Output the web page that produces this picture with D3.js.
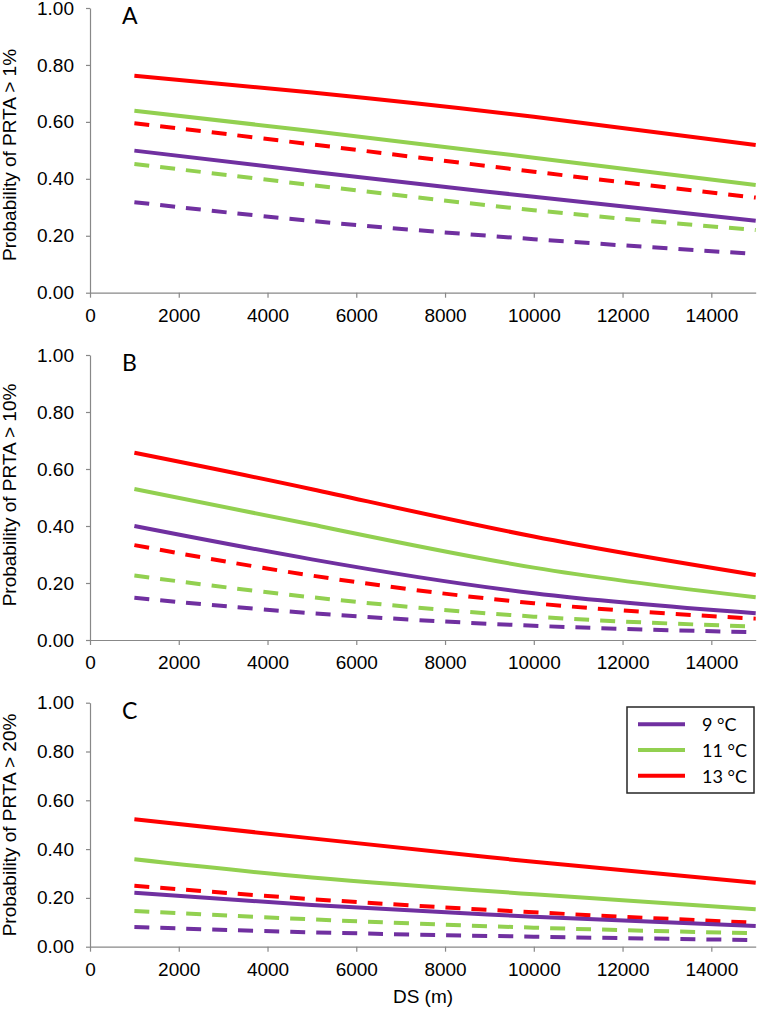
<!DOCTYPE html>
<html>
<head>
<meta charset="utf-8">
<script src="https://cdn.jsdelivr.net/npm/d3@7"></script>
<style>
  html, body { margin: 0; padding: 0; background: #fff; }
  svg { display: block; }
</style>
</head>
<body>
<svg id="chart" width="757" height="1011"></svg>
<script>
// ---- data ----
const dsValues = [1000, 5000, 10000, 15000];
const xTicks = [0, 2000, 4000, 6000, 8000, 10000, 12000, 14000];
const yTicks = [0, 0.2, 0.4, 0.6, 0.8, 1.0];
const temperatures = ["9 °C", "11 °C", "13 °C"];
const tempColors = ["#7030A0", "#92D050", "#FF0000"];
const panelLetters = ["A", "B", "C"];
const yTitles = ["Probability of PRTA > 1%", "Probability of PRTA > 10%", "Probability of PRTA > 20%"];

// Panel A (PRTA > 1%)
const a_solid9  = [0.499, 0.425, 0.337, 0.253];
const a_solid11 = [0.639, 0.568, 0.474, 0.378];
const a_solid13 = [0.762, 0.703, 0.618, 0.519];
const a_dash9   = [0.318, 0.252, 0.188, 0.136];
const a_dash11  = [0.452, 0.378, 0.290, 0.220];
const a_dash13  = [0.595, 0.521, 0.425, 0.334];
// Panel B (PRTA > 10%)
const b_solid9  = [0.400, 0.283, 0.164, 0.094];
const b_solid11 = [0.530, 0.405, 0.254, 0.150];
const b_solid13 = [0.657, 0.529, 0.363, 0.228];
const b_dash9   = [0.148, 0.094, 0.050, 0.027];
const b_dash11  = [0.226, 0.150, 0.082, 0.047];
const b_dash13  = [0.333, 0.226, 0.129, 0.075];
// Panel C (PRTA > 20%)
const c_solid9  = [0.221, 0.171, 0.123, 0.085];
const c_solid11 = [0.358, 0.284, 0.215, 0.153];
const c_solid13 = [0.522, 0.444, 0.348, 0.262];
const c_dash9   = [0.081, 0.059, 0.041, 0.027];
const c_dash11  = [0.146, 0.112, 0.078, 0.055];
const c_dash13  = [0.250, 0.195, 0.141, 0.098];

const panelSeries = [
  { solid: [a_solid9, a_solid11, a_solid13], dash: [a_dash9, a_dash11, a_dash13] },
  { solid: [b_solid9, b_solid11, b_solid13], dash: [b_dash9, b_dash11, b_dash13] },
  { solid: [c_solid9, c_solid11, c_solid13], dash: [c_dash9, c_dash11, c_dash13] }
];

// ---- layout ----
const panelBox = [
  { top: 8, bottom: 292.7, titleY: 155 },
  { top: 355, bottom: 640, titleY: 495 },
  { top: 702.7, bottom: 946.7, titleY: 825 }
];
const xLeft = 90, xRight = 755.7;
const axisColor = "#888888";
const tickFont = "'Liberation Sans', Arial, sans-serif";
const letterFont = "Lato, 'Open Sans', sans-serif";

const svg = d3.select("#chart");
const x = d3.scaleLinear().domain([0, 15000]).range([xLeft, xRight]);

panelBox.forEach((pb, i) => {
  const y = d3.scaleLinear().domain([0, 1]).range([pb.bottom, pb.top]);
  const g = svg.append("g");

  // y axis
  const yAx = g.append("g").attr("transform", `translate(${xLeft},0)`)
    .call(d3.axisLeft(y).tickValues(yTicks).tickFormat(d3.format(".2f")).tickSize(4).tickPadding(12).tickSizeOuter(0));
  // x axis
  const xAx = g.append("g").attr("transform", `translate(0,${pb.bottom})`)
    .call(d3.axisBottom(x).tickValues(xTicks).tickFormat(d3.format("d")).tickSize(5).tickPadding(11).tickSizeOuter(0));
  [yAx, xAx].forEach(ax => {
    ax.select(".domain").attr("stroke", axisColor).attr("stroke-width", 1.2);
    ax.selectAll(".tick line").attr("stroke", axisColor).attr("stroke-width", 1.2);
    ax.selectAll(".tick text").attr("fill", "#000").style("font-family", tickFont).style("font-size", "19px");
  });

  // y title
  g.append("text")
    .attr("transform", `translate(16,${pb.titleY}) rotate(-90)`)
    .attr("text-anchor", "middle")
    .style("font-family", tickFont).style("font-size", "19px")
    .attr("fill", "#000")
    .text(yTitles[i]);

  // panel letter
  g.append("text")
    .attr("x", 122).attr("y", pb.top + 16)
    .style("font-family", letterFont).style("font-size", "23px")
    .attr("fill", "#000")
    .text(panelLetters[i]);

  const line = d3.line()
    .x((d, k) => x(dsValues[k]))
    .y(d => y(d))
    .curve(d3.curveNatural);

  // dashed series
  panelSeries[i].dash.forEach((vals, k) => {
    g.append("path").datum(vals)
      .attr("d", line)
      .attr("fill", "none")
      .attr("stroke", tempColors[k])
      .attr("stroke-width", 4)
      .attr("stroke-dasharray", "15,11");
  });
  // solid series
  panelSeries[i].solid.forEach((vals, k) => {
    g.append("path").datum(vals)
      .attr("d", line)
      .attr("fill", "none")
      .attr("stroke", tempColors[k])
      .attr("stroke-width", 4);
  });
});

// x title
svg.append("text")
  .attr("x", 423).attr("y", 1003)
  .attr("text-anchor", "middle")
  .style("font-family", tickFont).style("font-size", "19px")
  .attr("fill", "#000")
  .text("DS (m)");

// legend
const lg = svg.append("g");
lg.append("rect")
  .attr("x", 627).attr("y", 707).attr("width", 127).attr("height", 86)
  .attr("fill", "#fff").attr("stroke", "#262626").attr("stroke-width", 1.5);
const legendRowY = [724.3, 750, 775.7];
temperatures.forEach((t, k) => {
  lg.append("line")
    .attr("x1", 638).attr("x2", 685)
    .attr("y1", legendRowY[k]).attr("y2", legendRowY[k])
    .attr("stroke", tempColors[k]).attr("stroke-width", 4);
  lg.append("text")
    .attr("x", 702).attr("y", legendRowY[k] + 7)
    .style("font-family", letterFont).style("font-size", "18px")
    .attr("fill", "#000")
    .text(t);
});
</script>
</body>
</html>
